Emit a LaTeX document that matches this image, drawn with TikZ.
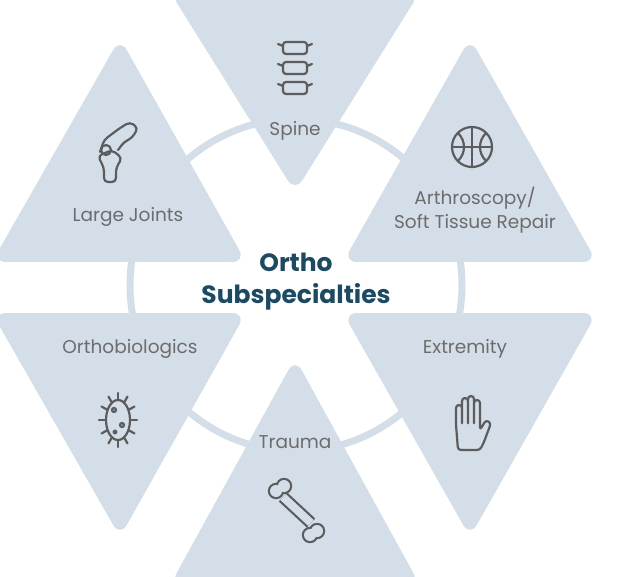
\documentclass[tikz,border=0pt]{standalone}
\usepackage{fontspec}
\setmainfont{Poppins}
\begin{document}
\begin{tikzpicture}[x=1pt,y=-1pt,
  tri/.style={fill=tcol,rounded corners=14pt},
  lab/.style={text=gray!85!black,font=\fontsize{18.5}{24}\selectfont,align=center},
  ico/.style={draw=icol,line width=2.2pt,line cap=round,line join=round}]
\definecolor{tcol}{HTML}{D4DEE8}
\definecolor{icol}{HTML}{5C5C5C}
\definecolor{ccol}{HTML}{1D4A63}
\useasboundingbox (0,0) rectangle (618,577);
\draw[tcol,line width=7pt] (296,285) circle (166);
% triangles
\fill[tri] (170,-8)--(420,-8)--(295,192)--cycle;
\fill[tri] (470,38)--(597,262)--(343,262)--cycle;
\fill[tri] (343,313)--(597,313)--(470,537)--cycle;
\fill[tri] (295,358)--(420,585)--(170,585)--cycle;
\fill[tri] (-8,313)--(246,313)--(120,537)--cycle;
\fill[tri] (120,38)--(246,262)--(-8,262)--cycle;
% labels
\node[lab] (sp) at (295,131) {Spine};
\node[lab] (ar) at (475,210) {Arthroscopy/\\Soft Tissue Repair};
\node[lab] (ex) at (465,349) {Extremity};
\node[lab] (tr) at (295,442) {Trauma};
\node[lab] (ob) at (130,349) {Orthobiologics};
\node[lab] (lj) at (128,217) {Large Joints};
\node[text=ccol,font=\bfseries\fontsize{25}{32}\selectfont,align=center] (c) at (296,282) {Ortho\\Subspecialties};
% spine icon
\foreach \y in {48,68,88}{
  \draw[ico,rounded corners=3pt] (283,\y-6) rectangle (307,\y+6);
  \draw[ico] (283,\y-2)--(278,\y-4) (307,\y-2)--(312,\y-4);}
% basketball
\draw[ico] (472,147) circle (20);
\draw[ico] (452,147)--(492,147) (472,127)--(472,167);
\draw[ico] (458,133) .. controls (466,141) and (466,153) .. (458,161);
\draw[ico] (486,133) .. controls (478,141) and (478,153) .. (486,161);
% knee
\draw[ico,rounded corners=4pt] (100,152)--(104,140)--(120,128)--(130,122)--(138,128)--(132,138)--(124,142)--(118,150);
\draw[ico,rounded corners=4pt] (98,156)--(104,168)--(104,182)--(116,182)--(116,168)--(122,158)--(112,150)--cycle;
\draw[ico] (106,150) circle (5);
% bacteria
\draw[ico] (118,420) ellipse (12 and 20);
\foreach \a in {0,30,...,330}{\draw[ico] ({118+13*cos(\a)},{420+21*sin(\a)})--({118+19*cos(\a)},{420+27*sin(\a)});}
\draw[ico] (114,410) circle (2) (122,425) circle (2) (115,432) circle (1.5);
% hand
\draw[ico,rounded corners=3pt] (458,450)--(456,425)--(456,405)--(462,405)--(462,425)--(462,398)--(468,398)--(468,425)--(468,396)--(474,396)--(474,425)--(474,400)--(480,400)--(480,430)--(486,420)--(491,423)--(484,442)--(480,450)--cycle;
% bone
\draw[icol,line width=12.4pt] (283,497)--(311,523);
\fill[icol] (276,491) circle (8.2) (284,486) circle (8.2) (317,531) circle (8.2) (310,535) circle (8.2);
\draw[tcol,line width=8pt] (283,497)--(311,523);
\fill[tcol] (276,491) circle (6) (284,486) circle (6) (317,531) circle (6) (310,535) circle (6);
\end{tikzpicture}
\end{document}
